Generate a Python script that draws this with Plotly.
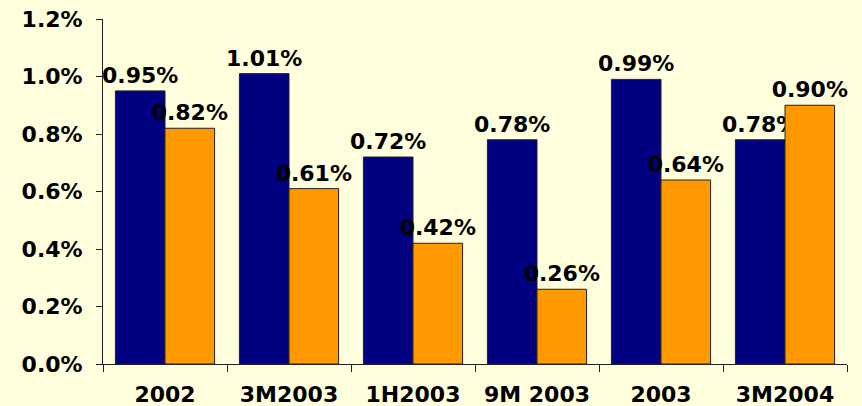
import plotly.graph_objects as go

# Periods and the two ratio series (in percent)
periods = ["2002", "3M2003", "1H2003", "9M 2003", "2003", "3M2004"]
series_a = [0.95, 1.01, 0.72, 0.78, 0.99, 0.78]
series_b = [0.82, 0.61, 0.42, 0.26, 0.64, 0.90]
y_ticks = [0.0, 0.2, 0.4, 0.6, 0.8, 1.0, 1.2]

FONT = "DejaVu Sans"
BG = "#FFFFDD"

fig = go.Figure()
for vals, color in [(series_a, "#000080"), (series_b, "#FF9900")]:
    fig.add_trace(go.Bar(
        x=periods,
        y=vals,
        marker=dict(color=color, line=dict(color="#222222", width=1)),
        text=[f"{v:.2f}%" for v in vals],
        textposition="outside",
        textfont=dict(family=FONT, size=22, color="black", weight="bold"),
        constraintext="none",
        cliponaxis=False,
        showlegend=False,
    ))

fig.update_layout(
    width=862,
    height=406,
    margin=dict(l=103, r=15, t=19, b=42, autoexpand=False),
    paper_bgcolor=BG,
    plot_bgcolor=BG,
    barmode="group",
    bargap=0.2,
    bargroupgap=0,
    font=dict(family=FONT, size=22, color="black", weight="bold"),
)

fig.update_xaxes(
    automargin=False,
    showline=True,
    linecolor="#222222",
    linewidth=1,
    ticks="outside",
    tickson="boundaries",
    ticklen=7,
    tickcolor="#222222",
    showgrid=False,
    ticklabelstandoff=11,
    tickfont=dict(family=FONT, size=22, color="black", weight="bold"),
)

fig.update_yaxes(
    automargin=False,
    range=[0, 1.2],
    tickvals=y_ticks,
    ticktext=[f"{v:.1f}%" for v in y_ticks],
    showline=True,
    linecolor="#222222",
    linewidth=1,
    ticks="outside",
    ticklen=6,
    tickcolor="#222222",
    showgrid=False,
    zeroline=False,
    ticklabelstandoff=9,
    tickfont=dict(family=FONT, size=22, color="black", weight="bold"),
)

fig.write_html("out.html")
